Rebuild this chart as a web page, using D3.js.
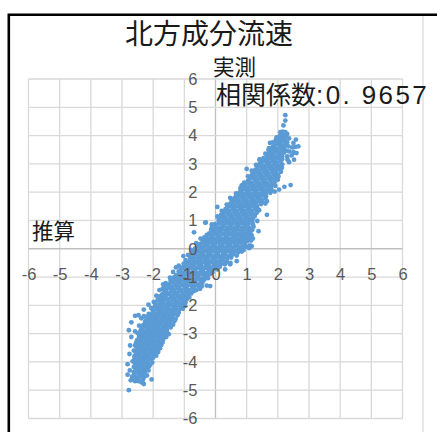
<!DOCTYPE html>
<html>
<head>
<meta charset="utf-8">
<script src="https://cdn.jsdelivr.net/npm/d3@7"></script>
<style>
  html, body { margin: 0; padding: 0; background: #fff; }
  svg { display: block; }
  text { font-family: "Noto Sans CJK JP", sans-serif; fill: #1a1a1a; }
  .tick text { font-family: "Liberation Sans", sans-serif; font-size: 16.5px; fill: #595959; }
</style>
</head>
<body>
<script>
const WIDTH = 437;
const HEIGHT = 432;

const titulo = "北方成分流速";
const tituloY = "実測";
const tituloX = "推算";
const etiquetaCorrelacion = "相関係数";
const valorCorrelacion = ":0. 9657";
const ticks = [-6, -5, -4, -3, -2, -1, 0, 1, 2, 3, 4, 5, 6];

const brazoInferior = [
  [-2.78,-5],[-2.05,-4.62],[-2.3,-4.78],[-2.38,-4.72],[-2.48,-4.68],[-2.58,-4.68],[-2.72,-4.65],[-2.82,-4.45],[-2.68,-4.52],[-2.55,-4.55],[-2.42,-4.5],[-2.3,-4.55],[-2.2,-4.48],
  [-2.75,-4.3],[-2.62,-4.36],[-2.5,-4.34],[-2.38,-4.32],[-2.26,-4.36],[-2.15,-4.3],[-2.82,-4.08],[-2.62,-4.18],[-2.5,-4.14],[-2.38,-4.18],[-2.26,-4.12],[-2.13,-4.16],[-2.03,-4.02],
  [-2.66,-3.98],[-2.54,-3.95],[-2.42,-4],[-2.3,-3.94],[-2.18,-3.98],[-2.06,-3.88],[-2.76,-3.72],[-2.6,-3.8],[-2.48,-3.78],[-2.36,-3.82],[-2.24,-3.76],[-2.12,-3.8],[-2,-3.72],[-1.9,-3.78],
  [-2.62,-3.6],[-2.5,-3.62],[-2.38,-3.58],[-2.26,-3.62],[-2.14,-3.56],[-2.02,-3.6],[-1.9,-3.55],[-1.78,-3.52],[-2.74,-3.42],[-2.58,-3.42],[-2.46,-3.44],[-2.34,-3.4],[-2.22,-3.44],[-2.1,-3.38],[-1.98,-3.42],[-1.86,-3.36],[-1.74,-3.4],
  [-2.7,-3.12],[-2.52,-3.24],[-2.4,-3.26],[-2.28,-3.22],[-2.16,-3.26],[-2.04,-3.2],[-1.92,-3.24],[-1.8,-3.18],[-1.68,-3.22],[-1.58,-3.12],[-2.45,-3.08],[-2.34,-3.04],[-2.22,-3.08],[-2.1,-3.02],[-1.98,-3.06],[-1.86,-3],[-1.74,-3.05],[-1.62,-2.98],[-1.5,-3.02],
  [-2.78,-2.88],[-2.58,-2.92],[-2.4,-2.88],[-2.28,-2.9],[-2.16,-2.84],[-2.04,-2.88],[-1.92,-2.82],[-1.8,-2.86],[-1.68,-2.8],[-1.56,-2.84],[-1.44,-2.78],[-2.7,-2.6],[-2.32,-2.7],[-2.2,-2.66],[-2.08,-2.7],[-1.96,-2.64],[-1.84,-2.68],[-1.72,-2.62],[-1.6,-2.66],[-1.48,-2.6],[-1.36,-2.68],
  [-2.58,-2.37],[-2.47,-2.35],[-2.38,-2.46],[-2.22,-2.5],[-2.1,-2.46],[-1.98,-2.5],[-1.86,-2.44],[-1.74,-2.48],[-1.62,-2.42],[-1.5,-2.46],[-1.38,-2.4],[-1.28,-2.48],[-2.3,-2.15],[-2.14,-2.3],[-2.02,-2.26],[-1.9,-2.3],[-1.78,-2.24],[-1.66,-2.28],[-1.54,-2.22],[-1.42,-2.26],[-1.3,-2.2],[-1.18,-2.26]
];

const nucleo = [
  [-2.15,-1.98],[-2.06,-2.1],[-1.94,-2.04],[-1.82,-2.08],[-1.7,-2.02],[-1.58,-2.06],[-1.46,-2],[-1.34,-2.06],[-1.22,-2],[-1.1,-2.06],[-0.98,-2.02],[-1.98,-1.88],[-1.86,-1.82],[-1.74,-1.86],[-1.62,-1.8],[-1.5,-1.86],[-1.38,-1.8],[-1.26,-1.86],[-1.14,-1.8],[-1.02,-1.85],[-0.92,-1.78],
  [-1.9,-1.66],[-1.8,-1.68],[-1.72,-1.62],[-1.6,-1.66],[-1.48,-1.6],[-1.36,-1.66],[-1.24,-1.6],[-1.12,-1.66],[-1,-1.6],[-0.88,-1.64],[-0.78,-1.58],[-1.8,-1.46],[-1.7,-1.42],[-1.58,-1.46],[-1.46,-1.4],[-1.34,-1.46],[-1.22,-1.4],[-1.1,-1.46],[-0.98,-1.4],[-0.86,-1.46],[-0.74,-1.4],[-0.62,-1.46],[-0.5,-1.42],
  [-1.68,-1.26],[-1.6,-1.22],[-1.5,-1.26],[-1.38,-1.2],[-1.26,-1.26],[-1.14,-1.2],[-1.02,-1.26],[-0.9,-1.2],[-0.78,-1.26],[-0.66,-1.2],[-0.54,-1.26],[-0.42,-1.2],[-0.28,-1.3],[-1.46,-1.02],[-1.44,-1.06],[-1.32,-1],[-1.2,-1.06],[-1.08,-1],[-0.96,-1.06],[-0.84,-1],[-0.72,-1.06],[-0.6,-1],[-0.48,-1.06],[-0.36,-1],[-0.24,-1.04],
  [-1.36,-0.82],[-1.27,-0.66],[-1.18,-0.8],[-1.06,-0.86],[-0.94,-0.8],[-0.82,-0.86],[-0.7,-0.8],[-0.58,-0.86],[-0.46,-0.8],[-0.34,-0.86],[-0.22,-0.8],[-0.1,-0.84],[-1.18,-0.6],[-1.06,-0.66],[-0.94,-0.6],[-0.82,-0.66],[-0.7,-0.6],[-0.58,-0.66],[-0.46,-0.6],[-0.34,-0.66],[-0.22,-0.6],[-0.1,-0.66],[0.02,-0.6],[0.14,-0.64],
  [-1.03,-0.26],[-0.96,-0.4],[-0.84,-0.46],[-0.72,-0.4],[-0.6,-0.46],[-0.48,-0.4],[-0.36,-0.46],[-0.24,-0.4],[-0.12,-0.46],[0,-0.4],[0.12,-0.46],[0.24,-0.42],[0.36,-0.46],[0.48,-0.5],[-0.88,-0.22],[-0.76,-0.26],[-0.64,-0.2],[-0.52,-0.26],[-0.4,-0.2],[-0.28,-0.26],[-0.16,-0.2],[-0.04,-0.26],[0.08,-0.2],[0.2,-0.26],[0.32,-0.2],[0.44,-0.26],[0.56,-0.2],[0.68,-0.24],
  [-0.78,-0.04],[-0.66,0],[-0.54,-0.06],[-0.42,0],[-0.3,-0.06],[-0.18,0],[-0.06,-0.06],[0.06,0],[0.18,-0.06],[0.3,0],[0.42,-0.06],[0.54,0],[0.66,-0.06],[0.78,0],[0.9,-0.05],[1.08,0.02],[-0.62,0.2],[-0.5,0.16],[-0.38,0.22],[-0.26,0.16],[-0.14,0.22],[-0.02,0.16],[0.1,0.22],[0.22,0.16],[0.34,0.22],[0.46,0.16],[0.58,0.22],[0.7,0.16],[0.82,0.22],[0.94,0.16],[1.1,0.12],
  [-0.48,0.36],[-0.36,0.4],[-0.24,0.34],[-0.12,0.4],[0,0.34],[0.12,0.4],[0.24,0.34],[0.36,0.4],[0.48,0.34],[0.6,0.4],[0.72,0.34],[0.84,0.4],[0.96,0.34],[1.08,0.4],[1.2,0.36],[-0.69,0.58],[-0.2,0.54],[-0.08,0.6],[0.04,0.54],[0.16,0.6],[0.28,0.54],[0.4,0.6],[0.52,0.54],[0.64,0.6],[0.76,0.54],[0.88,0.6],[1,0.54],[1.12,0.56],[1.38,0.62],
  [-0.12,0.74],[0,0.8],[0.12,0.74],[0.24,0.8],[0.36,0.74],[0.48,0.8],[0.6,0.74],[0.72,0.8],[0.84,0.74],[0.96,0.8],[1.08,0.74],[1.22,0.78],[-0.31,0.93],[0.1,1],[0.22,0.94],[0.34,1],[0.46,0.94],[0.58,1],[0.7,0.94],[0.82,1],[0.94,0.94],[1.06,1],[1.18,0.95],[1.34,0.98],
  [0.06,1.14],[0.18,1.2],[0.3,1.14],[0.42,1.2],[0.54,1.14],[0.66,1.2],[0.78,1.14],[0.9,1.2],[1.02,1.14],[1.14,1.2],[1.26,1.16],[1.65,1.2],[0.2,1.34],[0.32,1.4],[0.44,1.34],[0.56,1.4],[0.68,1.34],[0.8,1.4],[0.92,1.34],[1.04,1.4],[1.16,1.34],[1.28,1.4],[1.4,1.36],[0.06,1.48]
];

const brazoSuperior = [
  [0.36,1.56],[0.48,1.6],[0.6,1.54],[0.72,1.6],[0.84,1.54],[0.96,1.6],[1.08,1.54],[1.2,1.6],[1.32,1.54],[1.46,1.58],[1.6,1.6],[0.5,1.76],[0.62,1.8],[0.74,1.74],[0.86,1.8],[0.98,1.74],[1.1,1.8],[1.22,1.74],[1.34,1.8],[1.46,1.74],[1.6,1.78],
  [0.66,1.96],[0.78,2],[0.9,1.94],[1.02,2],[1.14,1.94],[1.26,2],[1.38,1.94],[1.5,2],[1.62,1.94],[1.76,1.98],[1.9,2.02],[2.04,2.09],[2.21,2.19],[2.41,2.25],[0.8,2.14],[0.92,2.2],[1.04,2.14],[1.16,2.2],[1.28,2.14],[1.4,2.2],[1.52,2.14],[1.64,2.2],[1.78,2.16],[1.92,2.22],
  [0.92,2.34],[1.04,2.4],[1.16,2.34],[1.28,2.4],[1.4,2.34],[1.52,2.4],[1.64,2.34],[1.76,2.4],[1.9,2.36],[2,2.44],[1,2.82],[1.04,2.56],[1.16,2.6],[1.28,2.54],[1.4,2.6],[1.52,2.54],[1.64,2.6],[1.76,2.54],[1.88,2.6],[2,2.62],
  [1.16,2.76],[1.28,2.8],[1.4,2.74],[1.52,2.8],[1.64,2.74],[1.76,2.8],[1.88,2.74],[2,2.8],[2.1,2.72],[1.3,2.96],[1.42,3],[1.54,2.94],[1.66,3],[1.78,2.94],[1.9,3],[2.02,2.94],[2.14,2.98],[2.52,3.15],[2.36,3.06],
  [1.42,3.16],[1.54,3.2],[1.66,3.14],[1.78,3.2],[1.9,3.14],[2.02,3.2],[2.14,3.16],[2.3,3.26],[2.44,3.3],[1.6,3.36],[1.72,3.4],[1.84,3.34],[1.96,3.4],[2.08,3.34],[2.2,3.4],[2.36,3.44],[2.5,3.42],[2.6,3.38],
  [1.72,3.56],[1.84,3.6],[1.96,3.54],[2.08,3.6],[2.2,3.56],[2.34,3.62],[2.46,3.58],[2.56,3.6],[2.66,3.62],[1.84,3.76],[1.96,3.8],[2.06,3.74],[2.18,3.8],[2.3,3.76],[2.58,3.86],[2.5,3.74],[1.96,3.94],[2.06,3.98],[2.16,3.92],[2.26,3.98],[2.36,3.9],
  [2.08,4.12],[2.16,4.14],[2.24,4.12],[2.3,4.06],[2.18,4.36],[2.24,4.53],[2.24,4.72]
];

// Puntos del interior de la nube, donde se tapan unos a otros
const relleno = [
  [-2.62,-4.62],[-2.47,-4.6],[-2.33,-4.64],[-2.6,-4.44],[-2.46,-4.42],[-2.34,-4.44],[-2.56,-4.25],[-2.44,-4.24],[-2.32,-4.26],[-2.2,-4.22],[-2.58,-4.07],[-2.46,-4.08],[-2.33,-4.05],[-2.2,-4.07],[-2.09,-4.09],
  [-2.6,-3.89],[-2.47,-3.88],[-2.36,-3.9],[-2.24,-3.86],[-2.12,-3.89],[-2,-3.85],[-2.55,-3.7],[-2.43,-3.71],[-2.31,-3.68],[-2.19,-3.7],[-2.07,-3.67],[-1.95,-3.68],[-1.84,-3.65],[-2.52,-3.52],[-2.4,-3.5],[-2.28,-3.53],[-2.16,-3.49],[-2.04,-3.51],[-1.92,-3.47],[-1.8,-3.48],
  [-2.55,-3.33],[-2.42,-3.35],[-2.3,-3.31],[-2.18,-3.34],[-2.06,-3.3],[-1.94,-3.33],[-1.82,-3.29],[-1.7,-3.31],[-2.46,-3.16],[-2.34,-3.14],[-2.22,-3.17],[-2.1,-3.12],[-1.98,-3.15],[-1.86,-3.1],[-1.74,-3.13],[-1.62,-3.08],
  [-2.4,-2.97],[-2.28,-2.99],[-2.16,-2.95],[-2.04,-2.97],[-1.92,-2.93],[-1.8,-2.95],[-1.68,-2.91],[-1.56,-2.93],[-2.34,-2.79],[-2.22,-2.76],[-2.1,-2.79],[-1.98,-2.75],[-1.86,-2.77],[-1.74,-2.72],[-1.62,-2.75],[-1.5,-2.71],[-1.42,-2.69],
  [-2.26,-2.58],[-2.14,-2.56],[-2.02,-2.59],[-1.9,-2.55],[-1.78,-2.57],[-1.66,-2.53],[-1.54,-2.55],[-1.42,-2.51],[-1.32,-2.56],[-2.2,-2.4],[-2.06,-2.37],[-1.94,-2.39],[-1.82,-2.35],[-1.7,-2.37],[-1.58,-2.33],[-1.46,-2.35],[-1.34,-2.31],[-1.22,-2.35],
  [-2,-2.18],[-1.88,-2.16],[-1.76,-2.13],[-1.64,-2.17],[-1.52,-2.12],[-1.4,-2.15],[-1.28,-2.11],[-1.16,-2.14],[-1.05,-2.12],[-1.92,-1.95],[-1.8,-1.97],[-1.68,-1.93],[-1.56,-1.96],[-1.44,-1.92],[-1.32,-1.95],[-1.2,-1.91],[-1.08,-1.94],[-0.96,-1.9],
  [-1.8,-1.77],[-1.68,-1.74],[-1.56,-1.76],[-1.44,-1.72],[-1.32,-1.75],[-1.2,-1.71],[-1.08,-1.74],[-0.96,-1.7],[-0.84,-1.72],[-1.66,-1.55],[-1.54,-1.57],[-1.42,-1.52],[-1.3,-1.55],[-1.18,-1.51],[-1.06,-1.54],[-0.94,-1.5],[-0.82,-1.53],[-0.7,-1.5],
  [-1.64,-1.35],[-1.52,-1.33],[-1.4,-1.35],[-1.28,-1.31],[-1.16,-1.34],[-1.04,-1.3],[-0.92,-1.33],[-0.8,-1.29],[-0.68,-1.33],[-0.56,-1.31],[-0.44,-1.33],[-1.44,-1.14],[-1.32,-1.12],[-1.2,-1.15],[-1.08,-1.11],[-0.96,-1.14],[-0.84,-1.1],[-0.72,-1.13],[-0.6,-1.09],[-0.48,-1.13],[-0.36,-1.1],
  [-1.26,-0.93],[-1.14,-0.91],[-1.02,-0.94],[-0.9,-0.9],[-0.78,-0.93],[-0.66,-0.89],[-0.54,-0.93],[-0.42,-0.89],[-0.3,-0.92],[-0.18,-0.9],[-1.12,-0.73],[-1,-0.71],[-0.88,-0.74],[-0.76,-0.7],[-0.64,-0.73],[-0.52,-0.69],[-0.4,-0.73],[-0.28,-0.69],[-0.16,-0.72],[-0.04,-0.7],[0.06,-0.73],
  [-1.02,-0.53],[-0.9,-0.51],[-0.78,-0.54],[-0.66,-0.5],[-0.54,-0.53],[-0.42,-0.49],[-0.3,-0.53],[-0.18,-0.49],[-0.06,-0.53],[0.06,-0.5],[0.18,-0.53],[0.3,-0.55],[-0.82,-0.33],[-0.7,-0.31],[-0.58,-0.34],[-0.46,-0.3],[-0.34,-0.33],[-0.22,-0.29],[-0.1,-0.33],[0.02,-0.29],[0.14,-0.33],[0.26,-0.3],[0.38,-0.34],[0.5,-0.31],
  [-0.72,-0.13],[-0.6,-0.11],[-0.48,-0.14],[-0.36,-0.1],[-0.24,-0.13],[-0.12,-0.09],[0,-0.13],[0.12,-0.09],[0.24,-0.13],[0.36,-0.09],[0.48,-0.13],[0.6,-0.1],[0.72,-0.13],[0.84,-0.1],[-0.58,0.09],[-0.46,0.07],[-0.34,0.1],[-0.22,0.06],[-0.1,0.09],[0.02,0.05],[0.14,0.09],[0.26,0.05],[0.38,0.09],[0.5,0.06],[0.62,0.09],[0.74,0.06],[0.86,0.09],[0.98,0.07],
  [-0.42,0.28],[-0.3,0.3],[-0.18,0.27],[-0.06,0.31],[0.06,0.27],[0.18,0.31],[0.3,0.27],[0.42,0.3],[0.54,0.27],[0.66,0.3],[0.78,0.27],[0.9,0.3],[1.02,0.27],[1.14,0.29],[-0.28,0.49],[-0.16,0.46],[-0.04,0.5],[0.08,0.46],[0.2,0.5],[0.32,0.46],[0.44,0.5],[0.56,0.46],[0.68,0.49],[0.8,0.46],[0.92,0.49],[1.04,0.46],[1.16,0.47],
  [-0.14,0.67],[-0.02,0.69],[0.1,0.65],[0.22,0.69],[0.34,0.65],[0.46,0.69],[0.58,0.65],[0.7,0.69],[0.82,0.66],[0.94,0.69],[1.06,0.65],[1.18,0.67],[-0.02,0.87],[0.1,0.89],[0.22,0.85],[0.34,0.89],[0.46,0.85],[0.58,0.89],[0.7,0.85],[0.82,0.89],[0.94,0.85],[1.06,0.88],[1.2,0.86],
  [0.12,1.07],[0.24,1.09],[0.36,1.05],[0.48,1.09],[0.6,1.05],[0.72,1.09],[0.84,1.05],[0.96,1.09],[1.08,1.05],[1.2,1.07],[0.24,1.27],[0.36,1.29],[0.48,1.25],[0.6,1.29],[0.72,1.25],[0.84,1.29],[0.96,1.25],[1.08,1.29],[1.2,1.25],[1.32,1.27],
  [0.38,1.47],[0.5,1.49],[0.62,1.45],[0.74,1.49],[0.86,1.45],[0.98,1.49],[1.1,1.45],[1.22,1.49],[1.34,1.46],[0.54,1.67],[0.66,1.69],[0.78,1.65],[0.9,1.69],[1.02,1.65],[1.14,1.69],[1.26,1.65],[1.38,1.69],[1.5,1.67],
  [0.66,1.87],[0.78,1.89],[0.9,1.85],[1.02,1.89],[1.14,1.85],[1.26,1.89],[1.38,1.85],[1.5,1.89],[1.62,1.86],[0.84,2.07],[0.96,2.09],[1.08,2.05],[1.2,2.09],[1.32,2.05],[1.44,2.09],[1.56,2.05],[1.68,2.08],[1.8,2.07],
  [0.96,2.27],[1.08,2.29],[1.2,2.25],[1.32,2.29],[1.44,2.25],[1.56,2.29],[1.68,2.25],[1.8,2.28],[1.1,2.47],[1.22,2.49],[1.34,2.45],[1.46,2.49],[1.58,2.45],[1.7,2.49],[1.82,2.46],[1.94,2.5],
  [1.22,2.67],[1.34,2.69],[1.46,2.65],[1.58,2.69],[1.7,2.65],[1.82,2.69],[1.94,2.66],[1.36,2.87],[1.48,2.89],[1.6,2.85],[1.72,2.89],[1.84,2.85],[1.96,2.88],[2.08,2.86],
  [1.48,3.07],[1.6,3.09],[1.72,3.05],[1.84,3.09],[1.96,3.05],[2.08,3.08],[1.66,3.27],[1.78,3.29],[1.9,3.25],[2.02,3.29],[2.14,3.26],[1.78,3.47],[1.9,3.49],[2.02,3.45],[2.14,3.49],[2.26,3.47],[1.9,3.67],[2.02,3.69],[2.14,3.65],[2.26,3.68],[2.02,3.87],[2.12,3.88],[2.22,3.86],[2.12,4.04],[2.2,4.03]
];

// Puntos sueltos del borde de la nube
const borde = [
  [1.16,0.39],[1.16,0.09],[0.68,-0.44],[0.47,-0.55],[0.31,-0.73],[-0.17,-1.32],[1.65,1.68],[2.02,2.56],[2.13,2.86],[2.31,3.15],[2.52,3.39],
  [0.47,1.8],[0.84,2.24],[1.41,3.15],[1.7,3.5],[1.75,3.74],[1.94,3.86],[-0.33,0.92],[-0.12,0.86],[-2.3,-2.38],[-2.45,-2.72],[-2.5,-2.98]
];

const puntos = [...brazoInferior, ...nucleo, ...brazoSuperior, ...relleno, ...borde];

const SVG = d3
  .select("body")
  .append("svg")
  .attr("width", WIDTH)
  .attr("height", HEIGHT);

const x = d3.scaleLinear().domain([-6, 6]).range([28.5, 402.5]);
const y = d3.scaleLinear().domain([-6, 6]).range([418.5, 79]);

// Marco de la imagen
SVG.append("line")
  .attr("x1", 423).attr("x2", 423)
  .attr("y1", 15).attr("y2", HEIGHT)
  .attr("stroke", "#d9d9d9").attr("stroke-width", 1.2);
SVG.append("path")
  .attr("d", `M8.8 ${HEIGHT}V14.8H${WIDTH}`)
  .attr("fill", "none")
  .attr("stroke", "#000")
  .attr("stroke-width", 2.6);

// Grilla
const grilla = SVG.append("g").attr("stroke-width", 1.3);
grilla.selectAll(".v").data(ticks).join("line").attr("class", "v")
  .attr("x1", (d) => x(d)).attr("x2", (d) => x(d))
  .attr("y1", y(6)).attr("y2", y(-6))
  .attr("stroke", (d) => d === 0 ? "#bfbfbf" : "#d9d9d9");
grilla.selectAll(".h").data(ticks).join("line").attr("class", "h")
  .attr("x1", x(-6)).attr("x2", x(6))
  .attr("y1", (d) => y(d)).attr("y2", (d) => y(d))
  .attr("stroke", (d) => d === 0 ? "#bfbfbf" : "#d9d9d9");

SVG.append("g")
  .attr("fill", "#5b9bd5")
  .selectAll("circle")
  .data(puntos)
  .join("circle")
  .attr("r", 2.4)
  .attr("cx", (d) => x(d[0]))
  .attr("cy", (d) => y(d[1]));

// Ejes: solo las etiquetas, las lineas ya estan en la grilla
const ejeX = SVG.append("g")
  .attr("transform", `translate(0,${y(0)})`)
  .call(d3.axisBottom(x).tickValues(ticks).tickSize(0).tickPadding(20).tickFormat(String));
const ejeY = SVG.append("g")
  .attr("transform", `translate(${x(0)},0)`)
  .call(d3.axisLeft(y).tickValues(ticks).tickSize(0).tickPadding(18).tickFormat(String));
ejeX.select(".domain").remove();
ejeY.select(".domain").remove();

SVG.append("text").attr("x", 209).attr("y", 44)
  .attr("text-anchor", "middle").attr("font-size", 28).text(titulo);
SVG.append("text").attr("x", 213).attr("y", 75)
  .attr("font-size", 21.5).text(tituloY);
const correlacion = SVG.append("text").attr("x", 216).attr("y", 104).attr("font-size", 25);
correlacion.append("tspan").text(etiquetaCorrelacion);
correlacion.append("tspan")
  .attr("font-size", 26)
  .attr("letter-spacing", 2.4)
  .attr("style", "font-family:'Liberation Sans',sans-serif")
  .text(valorCorrelacion);
SVG.append("text").attr("x", 32).attr("y", 239)
  .attr("font-size", 21.5).text(tituloX);
</script>
</body>
</html>
